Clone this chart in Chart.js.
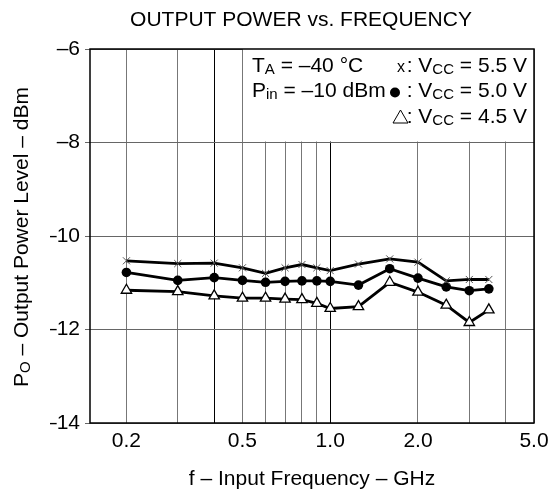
<!DOCTYPE html>
<html>
<head>
<meta charset="utf-8">
<script src="https://cdn.jsdelivr.net/npm/chart.js@4"></script>
<style>
  body { margin: 0; background: #fff; }
</style>
</head>
<body>
<canvas id="chart" width="559" height="496"></canvas>
<script>
// frequencies in GHz
const freqs = [0.2, 0.3, 0.4, 0.5, 0.6, 0.7, 0.8, 0.9, 1.0, 1.25, 1.6, 2.0, 2.5, 3.0, 3.5];
// output power in dBm
const vcc55 = [-10.53, -10.59, -10.58, -10.68, -10.80, -10.68, -10.61, -10.68, -10.74, -10.60, -10.49, -10.56, -10.96, -10.93, -10.93];
const vcc50 = [-10.78, -10.95, -10.89, -10.95, -10.99, -10.97, -10.96, -10.96, -10.97, -11.05, -10.70, -10.90, -11.09, -11.17, -11.13];
const vcc45 = [-11.16, -11.19, -11.28, -11.33, -11.33, -11.35, -11.36, -11.44, -11.55, -11.51, -10.99, -11.20, -11.48, -11.85, -11.58];

const xGridValues = [0.2, 0.3, 0.4, 0.5, 0.6, 0.7, 0.8, 0.9, 1.0, 2.0, 3.0, 4.0, 5.0];
const xTickLabels = {0.2: '0.2', 0.5: '0.5', 1: '1.0', 2: '2.0', 5: '5.0'};
const darkGrid = [0.4, 1.0];

const FONT = '"Liberation Sans", Arial, sans-serif';
const FS = 21;   // main text size
const SUB = 15;  // subscript size

function pts(vals) {
  return freqs.map((f, i) => ({ x: f, y: vals[i] }));
}

// text with subscript parts: [['T'], ['A', true], ...]
function richWidth(ctx, parts) {
  let w = 0;
  parts.forEach(p => {
    ctx.font = (p[1] ? SUB : FS) + 'px ' + FONT;
    w += ctx.measureText(p[0]).width;
  });
  return w;
}
function drawRich(ctx, parts, x, y, align) {
  let w = richWidth(ctx, parts);
  let cx = align === 'right' ? x - w : align === 'center' ? x - w / 2 : x;
  ctx.textAlign = 'left';
  ctx.textBaseline = 'alphabetic';
  parts.forEach(p => {
    ctx.font = (p[1] ? SUB : FS) + 'px ' + FONT;
    ctx.fillText(p[0], cx, y + (p[1] ? 2 : 0));
    cx += ctx.measureText(p[0]).width;
  });
}

const decor = {
  id: 'decor',
  beforeDatasetsDraw(chart) {
    const { ctx, chartArea: a, scales } = chart;
    const x05 = scales.x.getPixelForValue(0.5);
    const y8 = scales.y.getPixelForValue(-8);
    ctx.save();
    // blank box behind the conditions text
    ctx.fillStyle = '#fff';
    ctx.fillRect(x05, a.top, a.right - x05, y8 - a.top - 1);
    // keep the 0.5 line through the top band
    const lx = Math.round(x05) + 0.5;
    ctx.strokeStyle = '#777';
    ctx.lineWidth = 1;
    ctx.beginPath();
    ctx.moveTo(lx, a.top);
    ctx.lineTo(lx, y8);
    ctx.stroke();
    ctx.restore();
  },
  afterDraw(chart) {
    const { ctx, chartArea: a } = chart;
    ctx.save();
    ctx.strokeStyle = '#000';
    ctx.lineWidth = 1.5;
    ctx.strokeRect(a.left, a.top, a.right - a.left, a.bottom - a.top);

    ctx.fillStyle = '#000';
    ctx.font = FS + 'px ' + FONT;
    ctx.textAlign = 'center';
    ctx.textBaseline = 'alphabetic';
    ctx.fillText('OUTPUT POWER vs. FREQUENCY', 301, 26);
    ctx.fillText('f – Input Frequency – GHz', 312, 485);

    // y axis title
    ctx.save();
    ctx.translate(28, 237);
    ctx.rotate(-Math.PI / 2);
    drawRich(ctx, [['P'], ['O', true], [' – Output Power Level – dBm']], 0, 0, 'center');
    ctx.restore();

    // conditions
    drawRich(ctx, [['T'], ['A', true], [' = –40 °C']], 252, 72, 'left');
    drawRich(ctx, [['P'], ['in', true], [' = –10 dBm']], 252, 97, 'left');
    drawRich(ctx, [[': V'], ['CC', true], [' = 5.5 V']], 527, 72, 'right');
    drawRich(ctx, [[': V'], ['CC', true], [' = 5.0 V']], 527, 97, 'right');
    drawRich(ctx, [[': V'], ['CC', true], [' = 4.5 V']], 527, 123, 'right');
    // symbols
    ctx.font = '16px ' + FONT;
    ctx.textAlign = 'center';
    ctx.fillText('x', 401, 72);
    ctx.beginPath();
    ctx.arc(395, 92.5, 5, 0, Math.PI * 2);
    ctx.fill();
    ctx.beginPath();
    ctx.moveTo(400.5, 110);
    ctx.lineTo(408, 123);
    ctx.lineTo(393, 123);
    ctx.closePath();
    ctx.lineWidth = 1;
    ctx.stroke();
    ctx.restore();
  }
};

new Chart(document.getElementById('chart'), {
  type: 'line',
  data: {
    datasets: [
      {
        label: 'VCC = 5.5 V',
        data: pts(vcc55),
        borderColor: '#000',
        borderWidth: 2.8,
        pointStyle: 'crossRot',
        pointRadius: 5,
        pointBorderColor: '#555',
        pointBorderWidth: 1,
        tension: 0
      },
      {
        label: 'VCC = 5.0 V',
        data: pts(vcc50),
        borderColor: '#000',
        borderWidth: 2.8,
        pointStyle: 'circle',
        pointRadius: 4.8,
        pointBackgroundColor: '#000',
        pointBorderColor: '#000',
        pointBorderWidth: 0,
        tension: 0
      },
      {
        label: 'VCC = 4.5 V',
        data: pts(vcc45),
        borderColor: '#000',
        borderWidth: 2.8,
        pointStyle: 'triangle',
        pointRadius: 6,
        pointBackgroundColor: '#fff',
        pointBorderColor: '#000',
        pointBorderWidth: 1.3,
        tension: 0
      }
    ]
  },
  options: {
    responsive: false,
    animation: false,
    layout: { padding: { left: 50, right: 25, top: 49, bottom: 43 } },
    plugins: { legend: { display: false }, tooltip: { enabled: false } },
    scales: {
      x: {
        type: 'logarithmic',
        min: 0.15,
        max: 5,
        afterBuildTicks(scale) {
          scale.ticks = xGridValues.map(v => ({ value: v }));
        },
        afterFit(scale) { scale.height = 30; },
        grid: {
          drawTicks: false,
          color: ctx => (ctx.tick && darkGrid.includes(ctx.tick.value)) ? '#000' : '#777',
          lineWidth: 1
        },
        border: { display: false },
        ticks: {
          autoSkip: false,
          maxRotation: 0,
          padding: 6,
          color: '#000',
          font: { family: FONT, size: FS },
          callback: v => xTickLabels[v] || ''
        }
      },
      y: {
        min: -14,
        max: -6,
        afterFit(scale) { scale.width = 40; },
        grid: { color: '#666', lineWidth: 1, tickLength: 5 },
        border: { display: false },
        ticks: {
          stepSize: 2,
          padding: 5,
          color: '#000',
          font: { family: FONT, size: FS },
          callback: v => v < 0 ? '–' + Math.abs(v) : String(v)
        }
      }
    }
  },
  plugins: [decor]
});
</script>
</body>
</html>
